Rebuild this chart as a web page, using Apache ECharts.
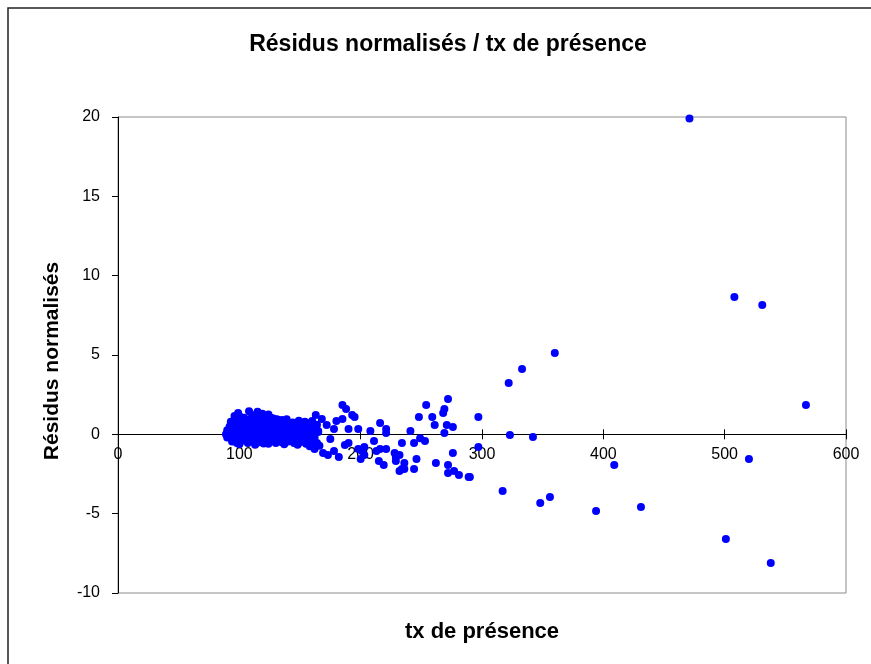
<!DOCTYPE html>
<html>
<head>
<meta charset="utf-8">
<script src="https://cdn.jsdelivr.net/npm/echarts@6/dist/echarts.min.js"></script>
<style>
html,body{margin:0;padding:0;background:#fff;}
#chart{width:871px;height:664px;}
</style>
</head>
<body>
<div id="chart"></div>
<script>
// Tick values
var xTicks = [0, 100, 200, 300, 400, 500, 600];
var yTicks = [-10, -5, 0, 5, 10, 15, 20];

// Dense cluster (tx de présence 90-170)
var clusterTx = [
  96,99,104,108,112,115,119,124,128,
  93,97,101,106,110,117,121,126,131,135,139,144,149,154,164,
  92,95,100,103,108,113,118,123,128,133,137,142,147,152,157,
  90,94,98,102,106,111,115,120,125,129,134,139,144,149,153,158,162,
  89,92,96,100,105,109,113,118,122,127,131,136,140,145,150,155,160,165,
  90,94,99,103,107,112,116,121,125,130,134,139,143,148,153,157,162,
  94,98,102,107,111,116,120,125,130,135,140,145,150,155,159,164,
  100,113,124,137,148,158,166
];
var clusterRes = [
  1.15,1.35,1.05,1.45,1.2,1.42,1.3,1.25,1.0,
  0.8,0.95,1.1,0.9,1.05,1.0,0.85,1.05,0.95,0.9,0.95,0.75,0.85,0.8,0.6,
  0.5,0.7,0.65,0.8,0.6,0.75,0.65,0.7,0.6,0.7,0.55,0.65,0.6,0.5,0.7,
  0.25,0.4,0.3,0.45,0.35,0.4,0.3,0.45,0.35,0.4,0.3,0.35,0.4,0.3,0.25,0.35,0.4,
  0.0,0.1,0.05,0.15,0.1,0.0,0.12,0.05,0.15,0.0,0.1,0.05,0.15,0.0,0.1,0.0,0.05,0.15,
  -0.2,-0.25,-0.15,-0.3,-0.2,-0.25,-0.15,-0.3,-0.2,-0.25,-0.15,-0.3,-0.2,-0.25,-0.15,-0.3,-0.2,
  -0.45,-0.55,-0.4,-0.55,-0.45,-0.5,-0.58,-0.45,-0.55,-0.5,-0.45,-0.55,-0.5,-0.6,-0.45,-0.55,
  -0.62,-0.65,-0.6,-0.62,-0.65,-0.75,-0.72
];

// Spread points (tx de présence 160-300)
var spreadTx = [
  185,188,193,195,163,168,160,185,180,172,216,190,198,208,221,221,178,165,
  175,211,190,187,203,198,201,216,221,213,162,169,178,173,182,228,229,203,
  200,215,219,229,234,
  272,254,269,268,248,259,297,261,271,276,241,269,249,253,244,234,297,276,
  232,246,236,262,272,236,244,232,272,277,281,289,290
];
var spreadRes = [
  1.85,1.6,1.22,1.09,1.22,0.97,0.84,0.97,0.84,0.59,0.71,0.33,0.33,0.21,0.33,0.08,0.33,0.21,
  -0.29,-0.42,-0.55,-0.67,-0.8,-0.92,-1.05,-0.92,-0.92,-1.05,-0.92,-1.18,-1.05,-1.3,-1.43,-1.18,-1.43,-1.3,
  -1.56,-1.68,-1.93,-1.68,-2.19,
  2.22,1.85,1.6,1.34,1.09,1.09,1.09,0.59,0.59,0.46,0.21,0.08,-0.25,-0.42,-0.55,-0.55,-0.8,-1.18,
  -1.3,-1.56,-1.81,-1.81,-1.93,-2.19,-2.19,-2.31,-2.44,-2.31,-2.56,-2.69,-2.69
];

// Outlying points (tx de présence > 300)
var outTx = [471, 508, 531, 360, 333, 322, 567, 323, 342, 520, 409, 317, 348, 356, 394, 431, 501, 538];
var outRes = [19.9, 8.65, 8.15, 5.12, 4.11, 3.23, 1.85, -0.04, -0.17, -1.56, -1.93, -3.57, -4.33, -3.95, -4.83, -4.58, -6.6, -8.11];

var allTx = clusterTx.concat(spreadTx, outTx);
var allRes = clusterRes.concat(spreadRes, outRes);
var points = allTx.map(function (t, i) { return [t, allRes[i]]; });

var FONT = 'Liberation Sans, Arial, sans-serif';
var chart = echarts.init(document.getElementById('chart'));
var xMin = xTicks[0], xMax = xTicks[xTicks.length - 1];
var yMin = yTicks[0], yMax = yTicks[yTicks.length - 1];
var xStep = xTicks[1] - xTicks[0];
var yStep = yTicks[1] - yTicks[0];

// plot box geometry (pixels)
var G = { left: 118, right: 25, top: 117, bottom: 71 };
var plotH = 664 - G.top - G.bottom;
// pixel row of value 0 on the y scale, used only to place the label strip grid
var zeroPx = G.top + plotH * (yMax - 0) / (yMax - yMin);

chart.setOption({
  animation: false,
  backgroundColor: '#fff',
  grid: [
    { left: G.left, right: G.right, top: G.top, bottom: G.bottom,
      show: true, borderColor: '#8c8c8c', borderWidth: 1, backgroundColor: '#fff' },
    { left: G.left, right: G.right, top: G.top, bottom: 664 - zeroPx, show: false }
  ],
  xAxis: [
    { type: 'value', gridIndex: 0, min: xMin, max: xMax, interval: xStep,
      position: 'bottom', splitLine: { show: false },
      axisLine: { show: true, onZero: true, lineStyle: { color: '#000', width: 1 } },
      axisTick: { show: true, inside: true, length: 5, lineStyle: { color: '#000' } },
      axisLabel: { show: false } },
    { type: 'value', gridIndex: 1, min: xMin, max: xMax, interval: xStep,
      position: 'bottom', splitLine: { show: false },
      axisLine: { show: true, onZero: false, lineStyle: { color: '#000', width: 1 } },
      axisTick: { show: true, inside: false, length: 5, lineStyle: { color: '#000' } },
      axisLabel: { show: true, margin: 12, color: '#000', fontSize: 16, fontFamily: FONT } }
  ],
  yAxis: [
    { type: 'value', gridIndex: 0, min: yMin, max: yMax, interval: yStep,
      position: 'left', splitLine: { show: false },
      axisLine: { show: true, onZero: false, lineStyle: { color: '#000', width: 1 } },
      axisTick: { show: true, inside: false, length: 6, lineStyle: { color: '#000' } },
      axisLabel: { margin: 18, color: '#000', fontSize: 16, fontFamily: FONT } },
    { type: 'value', gridIndex: 1, min: 0, max: yMax, show: false,
      splitLine: { show: false } }
  ],
  graphic: [
    { type: 'rect', z: -1, silent: true,
      shape: { x: 8, y: 8, width: 900, height: 700 },
      style: { fill: null, stroke: '#222', lineWidth: 1.5 } },
    { type: 'text', x: 448, y: 45,
      style: { text: 'Résidus normalisés / tx de présence', fill: '#000',
        font: 'bold 23px ' + FONT, textAlign: 'center', textVerticalAlign: 'middle' } },
    { type: 'text', x: 482, y: 632,
      style: { text: 'tx de présence', fill: '#000',
        font: 'bold 22px ' + FONT, textAlign: 'center', textVerticalAlign: 'middle' } },
    { type: 'text', x: 52, y: 361, rotation: Math.PI / 2,
      style: { text: 'Résidus normalisés', fill: '#000',
        font: 'bold 21px ' + FONT, textAlign: 'center', textVerticalAlign: 'middle' } }
  ],
  series: [{
    type: 'scatter',
    xAxisIndex: 0,
    yAxisIndex: 0,
    data: points,
    symbol: 'circle',
    symbolSize: 8,
    itemStyle: { color: '#0000ff', opacity: 1 }
  }]
});
</script>
</body>
</html>
